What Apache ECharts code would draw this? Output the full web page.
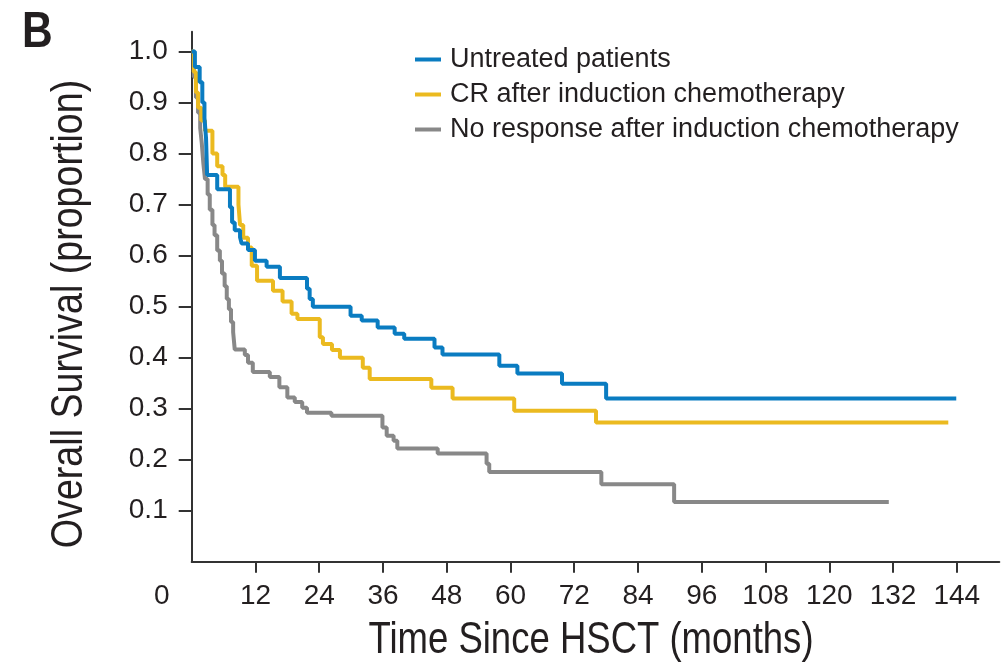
<!DOCTYPE html>
<html>
<head>
<meta charset="utf-8">
<title>Overall survival after HSCT</title>
<script src="https://cdn.jsdelivr.net/npm/echarts@6/dist/echarts.min.js"></script>
<style>
  html, body { margin: 0; padding: 0; background: #ffffff; }
  #chart { width: 1006px; height: 672px; }
</style>
</head>
<body>
<div id="chart"></div>
<script>
// Kaplan-Meier estimates: months since HSCT and surviving proportion at each step
const untreatedMonths = [0, 0.6, 1.5, 2.0, 2.4, 2.7, 2.9, 4.8, 7.2, 7.6, 8.1, 9.1, 9.4, 10.6, 11.9, 14.1, 16.6, 21.7, 22.2, 22.8, 29.9, 32.0, 35.0, 38.2, 40.0, 45.7, 47.2, 57.9, 61.3, 69.7, 78.0, 143.9];
const untreatedSurvival = [1.0, 0.97, 0.94, 0.90, 0.87, 0.83, 0.758, 0.73, 0.695, 0.665, 0.65, 0.636, 0.624, 0.611, 0.59, 0.578, 0.556, 0.535, 0.515, 0.50, 0.482, 0.473, 0.459, 0.447, 0.437, 0.42, 0.406, 0.384, 0.369, 0.349, 0.32, 0.32];

const crMonths = [0, 0.4, 0.8, 1.2, 1.8, 2.5, 3.9, 4.8, 5.8, 6.3, 8.8, 9.1, 9.7, 10.6, 11.3, 12.3, 15.3, 17.1, 18.8, 19.9, 24.1, 24.7, 26.4, 27.9, 32.2, 33.5, 45.1, 49.1, 60.7, 76.1, 142.4];
const crSurvival = [1.0, 0.96, 0.92, 0.89, 0.865, 0.845, 0.80, 0.775, 0.758, 0.735, 0.70, 0.66, 0.635, 0.616, 0.58, 0.551, 0.531, 0.51, 0.486, 0.476, 0.44, 0.427, 0.415, 0.40, 0.38, 0.358, 0.341, 0.32, 0.296, 0.273, 0.273];

const noResponseMonths = [0, 0.4, 0.8, 1.2, 1.6, 1.9, 2.2, 2.5, 3.0, 3.4, 3.9, 4.3, 4.8, 5.3, 5.7, 6.2, 6.6, 7.0, 7.4, 7.8, 8.1, 10.0, 10.6, 11.5, 14.7, 16.5, 18.0, 19.4, 20.8, 21.7, 26.3, 35.9, 36.7, 38.0, 38.7, 46.3, 55.5, 56.0, 77.1, 90.8, 131.2];
const noResponseSurvival = [1.0, 0.95, 0.91, 0.88, 0.85, 0.82, 0.78, 0.75, 0.72, 0.69, 0.66, 0.64, 0.61, 0.59, 0.565, 0.54, 0.515, 0.495, 0.47, 0.45, 0.416, 0.405, 0.39, 0.372, 0.362, 0.342, 0.322, 0.313, 0.302, 0.292, 0.286, 0.263, 0.247, 0.237, 0.222, 0.212, 0.192, 0.176, 0.152, 0.117, 0.117];

const seriesNames = ['Untreated patients', 'CR after induction chemotherapy', 'No response after induction chemotherapy'];
const seriesColors = ['#0a7cc1', '#ebba20', '#888888'];

// Axis ticks and labels
const monthTicks = [12, 24, 36, 48, 60, 72, 84, 96, 108, 120, 132, 144];
const monthLabels = [0, 12, 24, 36, 48, 60, 72, 84, 96, 108, 120, 132, 144];
const survivalTicks = [0.1, 0.2, 0.3, 0.4, 0.5, 0.6, 0.7, 0.8, 0.9, 1.0];

const xTitle = 'Time Since HSCT (months)';
const yTitle = 'Overall Survival (proportion)';
const panelLetter = 'B';

const zip = (months, surv) => months.map((m, i) => [m, surv[i]]);
const curves = [
  zip(untreatedMonths, untreatedSurvival),
  zip(crMonths, crSurvival),
  zip(noResponseMonths, noResponseSurvival)
];

const ink = '#231f20';
const axisInk = '#333333';
const plainFont = "'Liberation Sans', Arial, sans-serif";

const chart = echarts.init(document.getElementById('chart'), null, { renderer: 'canvas' });

const option = {
  animation: false,
  backgroundColor: '#ffffff',
  grid: { left: 191.7, right: 6.7, top: 31.7, bottom: 110.3, containLabel: false, outerBoundsMode: 'none' },
  legend: {
    orient: 'vertical',
    left: 410,
    top: 40,
    itemWidth: 26,
    itemHeight: 4,
    itemGap: 6,
    icon: 'rect',
    data: seriesNames,
    textStyle: { fontFamily: plainFont, fontSize: 27, color: ink, lineHeight: 29, padding: [0, 0, 0, 4] }
  },
  // condensed titles and panel letter: regular face squeezed horizontally
  graphic: [
    {
      type: 'text',
      x: 22,
      y: 33,
      scaleX: 0.85,
      style: { text: panelLetter, font: "bold 50px 'Liberation Sans', Arial, sans-serif", fill: ink, align: 'left', verticalAlign: 'middle' }
    },
    {
      type: 'text',
      x: 591,
      y: 641,
      scaleX: 0.83,
      style: { text: xTitle, font: "44px 'Liberation Sans', Arial, sans-serif", fill: ink, align: 'center', verticalAlign: 'middle' }
    },
    {
      type: 'text',
      x: 70,
      y: 314,
      rotation: Math.PI / 2,
      scaleX: 0.836,
      style: { text: yTitle, font: "45px 'Liberation Sans', Arial, sans-serif", fill: ink, align: 'center', verticalAlign: 'middle' }
    }
  ],
  xAxis: {
    type: 'value',
    min: 0,
    max: 152,
    interval: 12,
    axisLine: { show: true, onZero: false, lineStyle: { color: axisInk, width: 2 } },
    axisTick: { show: true, length: 11, customValues: monthTicks, lineStyle: { color: axisInk, width: 2 } },
    axisLabel: {
      customValues: monthLabels,
      margin: 21,
      fontFamily: plainFont,
      fontSize: 28,
      color: ink,
      formatter: (v) => (v === 0 ? '{origin|0}' : String(v)),
      rich: { origin: { fontFamily: plainFont, fontSize: 28, color: ink, padding: [0, 60, 0, 0] } }
    },
    splitLine: { show: false }
  },
  yAxis: {
    type: 'value',
    min: 0,
    max: 1.039,
    interval: 0.1,
    axisLine: { show: true, onZero: false, lineStyle: { color: axisInk, width: 2 } },
    axisTick: { show: true, length: 13, customValues: survivalTicks, lineStyle: { color: axisInk, width: 2 } },
    axisLabel: {
      customValues: survivalTicks,
      margin: 24,
      fontFamily: plainFont,
      fontSize: 28,
      color: ink,
      formatter: (v) => v.toFixed(1)
    },
    splitLine: { show: false }
  },
  series: seriesNames.map((name, i) => ({
    name: name,
    type: 'line',
    step: 'end',
    data: curves[i],
    showSymbol: false,
    symbol: 'none',
    color: seriesColors[i],
    lineStyle: { color: seriesColors[i], width: 4 },
    z: 3 - i
  }))
};

chart.setOption(option);
</script>
</body>
</html>
